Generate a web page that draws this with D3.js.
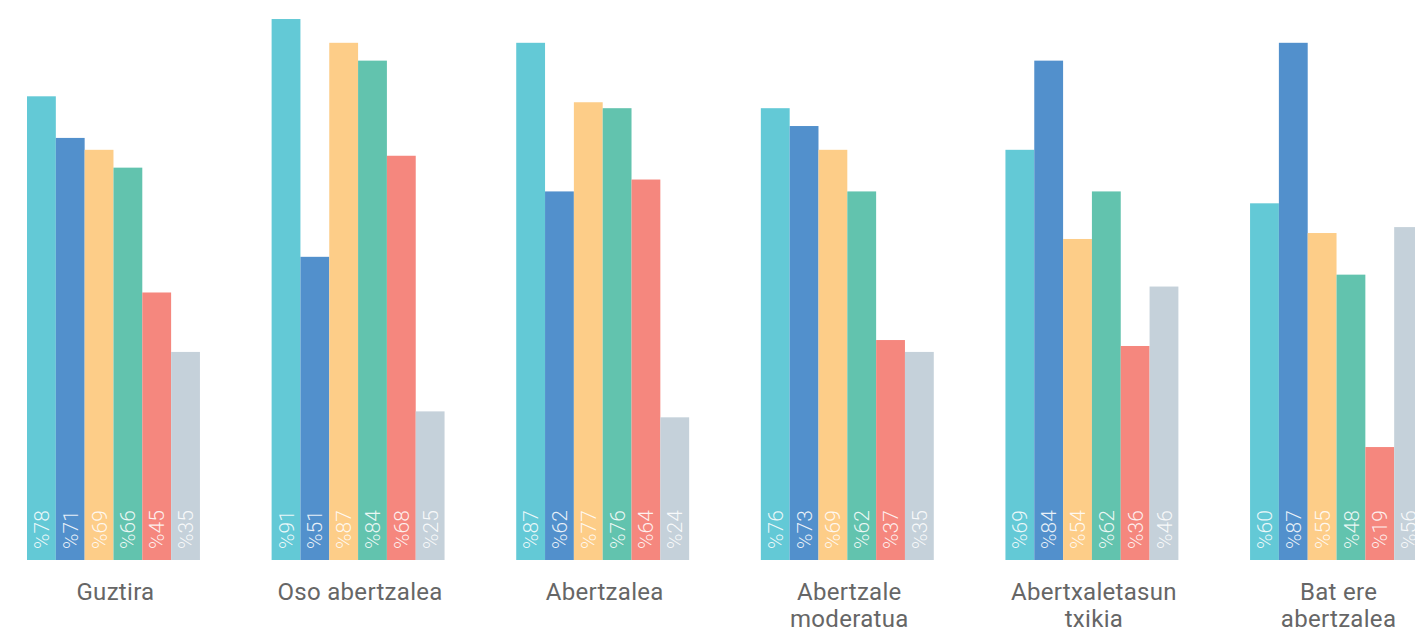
<!DOCTYPE html>
<html>
<head>
<meta charset="utf-8">
<script src="https://cdn.jsdelivr.net/npm/d3@7"></script>
<style>
  html, body { margin: 0; padding: 0; background: #fff; overflow: hidden; }
  svg { display: block; }
</style>
</head>
<body>
<svg id="chart" width="1415" height="630"></svg>
<script>
const groups = ["Guztira", "Oso abertzalea", "Abertzalea", "Abertzale moderatua", "Abertxaletasun txikia", "Bat ere abertzalea"];
const groupLines = [["Guztira"], ["Oso abertzalea"], ["Abertzalea"], ["Abertzale", "moderatua"], ["Abertxaletasun", "txikia"], ["Bat ere", "abertzalea"]];
const seriesKeys = ["s1", "s2", "s3", "s4", "s5", "s6"];
const s1 = [78, 91, 87, 76, 69, 60];
const s2 = [71, 51, 62, 73, 84, 87];
const s3 = [69, 87, 77, 69, 54, 55];
const s4 = [66, 84, 76, 62, 62, 48];
const s5 = [45, 68, 64, 37, 36, 19];
const s6 = [35, 25, 24, 35, 46, 56];
const colors = ["#63c9d6", "#5290cc", "#fdcd88", "#62c3ae", "#f5877e", "#c5d1da"];

const series = [s1, s2, s3, s4, s5, s6];
const data = groups.map((g, i) => ({
  group: g,
  lines: groupLines[i],
  values: seriesKeys.map((k, j) => ({ key: k, value: series[j][i], color: colors[j] }))
}));

const svg = d3.select("#chart");
const baseline = 560;

const x0 = d3.scaleBand()
  .domain(groups)
  .range([27, 27 + 5 * 244.6 + 173])
  .paddingInner(0.293)
  .paddingOuter(0);

const x1 = d3.scaleBand()
  .domain(seriesKeys)
  .range([0, x0.bandwidth()])
  .padding(0);

const y = d3.scaleLinear().domain([0, 94.2]).range([baseline, 0]);

const g = svg.selectAll("g.group")
  .data(data)
  .join("g")
  .attr("class", "group")
  .attr("transform", d => `translate(${x0(d.group)},0)`);

g.selectAll("rect")
  .data(d => d.values)
  .join("rect")
  .attr("x", d => x1(d.key))
  .attr("y", d => y(d.value))
  .attr("width", x1.bandwidth())
  .attr("height", d => baseline - y(d.value))
  .attr("fill", d => d.color);

g.selectAll("text.val")
  .data(d => d.values)
  .join("text")
  .attr("class", "val")
  .attr("transform", d => `translate(${x1(d.key) + x1.bandwidth() / 2},${baseline - 11}) rotate(-90)`)
  .attr("dy", "0.36em")
  .attr("text-anchor", "start")
  .attr("fill", "rgba(255,255,255,0.88)")
  .style("font-family", "Roboto, 'Noto Sans', sans-serif")
  .style("font-weight", 300)
  .style("font-size", "21px")
  .text(d => "%" + d.value);

const lbl = g.append("text")
  .attr("text-anchor", "middle")
  .attr("fill", "#666")
  .style("font-family", "Roboto, 'Noto Sans', sans-serif")
  .style("font-size", "24px")
  .style("letter-spacing", "0.3px");

lbl.selectAll("tspan")
  .data(d => d.lines)
  .join("tspan")
  .attr("x", x0.bandwidth() / 2 + 2)
  .attr("y", (d, i) => 600 + i * 27)
  .text(d => d);
</script>
</body>
</html>
